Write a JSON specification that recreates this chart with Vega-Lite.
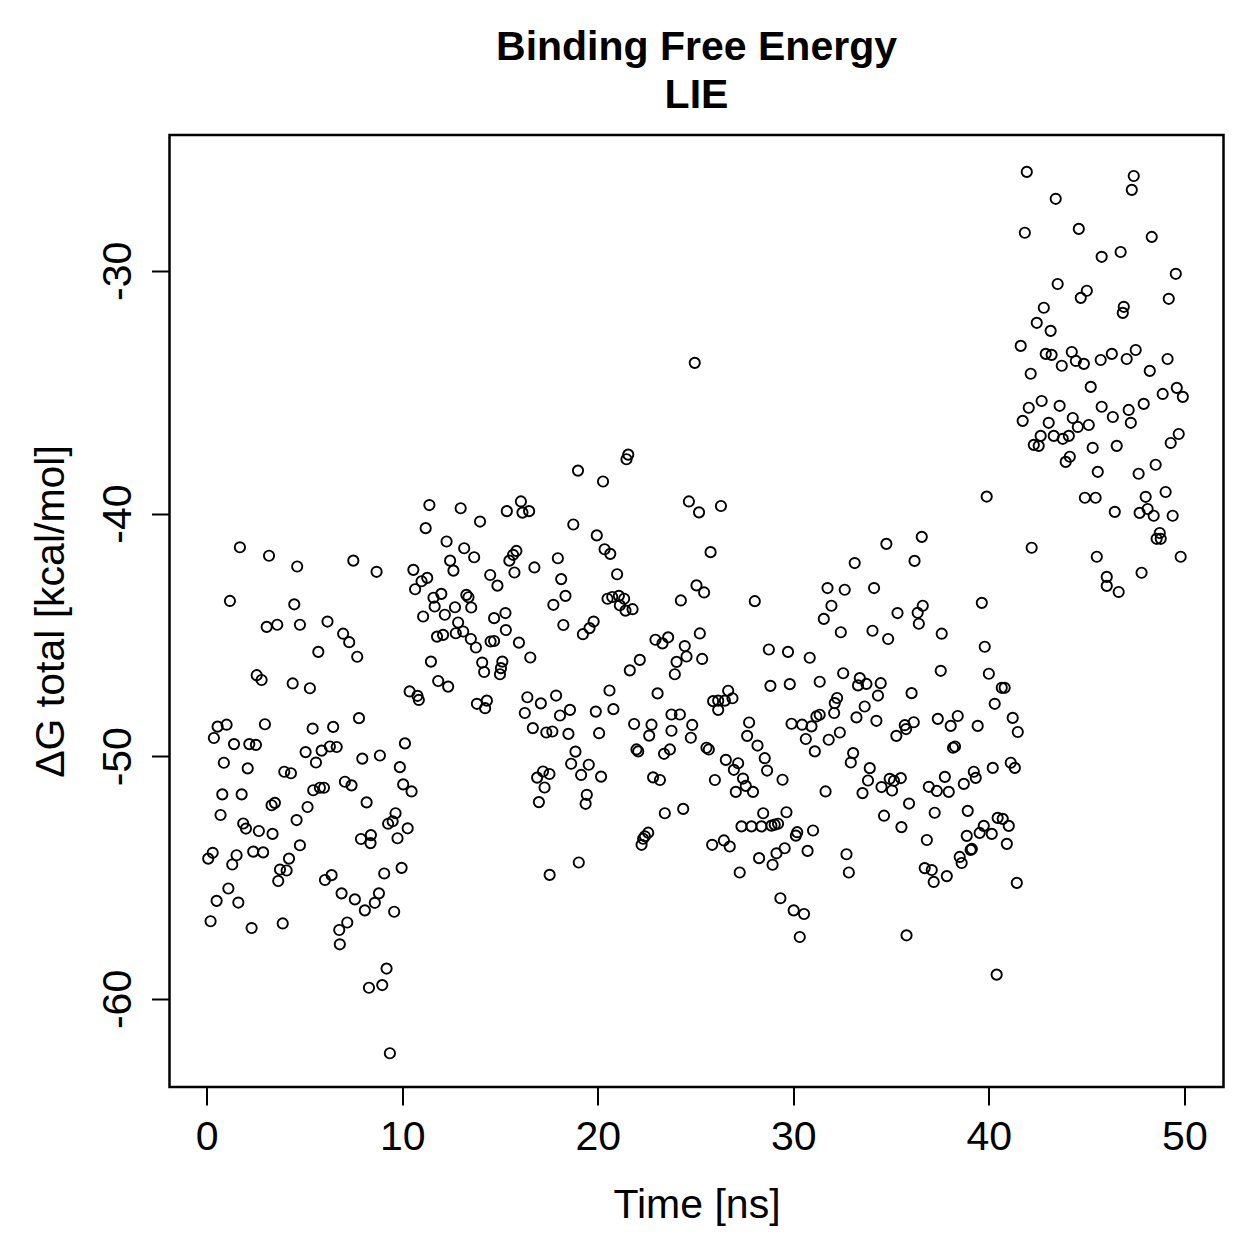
{
  "$schema": "https://vega.github.io/schema/vega-lite/v6.json",
  "width": 1054,
  "height": 952,
  "autosize": {"type": "none"},
  "padding": {"left": 169.5, "top": 135, "right": 35.5, "bottom": 172},
  "background": "white",
  "title": {
    "text": ["Binding Free Energy", "LIE"],
    "font": "Liberation Sans",
    "fontSize": 41,
    "fontWeight": "bold",
    "color": "black",
    "lineHeight": 48,
    "anchor": "middle",
    "frame": "group",
    "baseline": "alphabetic",
    "offset": -14
  },
  "data": {
    "values": [
      {"t":0.08,"g":-54.22},{"t":0.2,"g":-56.8},{"t":0.31,"g":-53.98},{"t":0.37,"g":-49.25},{"t":0.51,"g":-55.96},{"t":0.56,"g":-48.78},{"t":0.71,"g":-52.42},{"t":0.8,"g":-51.57},{"t":0.88,"g":-50.27},{"t":1.02,"g":-48.7},
      {"t":1.11,"g":-55.45},{"t":1.19,"g":-43.6},{"t":1.31,"g":-54.46},{"t":1.4,"g":-49.5},{"t":1.53,"g":-54.08},{"t":1.62,"g":-56.03},{"t":1.7,"g":-41.39},{"t":1.79,"g":-51.57},{"t":1.87,"g":-52.77},{"t":2.01,"g":-52.98},
      {"t":2.1,"g":-50.5},{"t":2.18,"g":-49.5},{"t":2.3,"g":-57.08},{"t":2.38,"g":-53.93},{"t":2.52,"g":-49.53},{"t":2.56,"g":-46.66},{"t":2.67,"g":-53.08},{"t":2.81,"g":-46.86},{"t":2.89,"g":-53.96},{"t":2.98,"g":-48.68},
      {"t":3.07,"g":-44.67},{"t":3.19,"g":-41.74},{"t":3.32,"g":-52.02},{"t":3.37,"g":-53.2},{"t":3.49,"g":-51.92},{"t":3.61,"g":-44.58},{"t":3.66,"g":-55.14},{"t":3.75,"g":-54.67},{"t":3.89,"g":-56.89},{"t":3.97,"g":-50.64},
      {"t":4.09,"g":-54.71},{"t":4.21,"g":-54.22},{"t":4.31,"g":-50.7},{"t":4.4,"g":-47.0},{"t":4.48,"g":-43.74},{"t":4.6,"g":-52.63},{"t":4.63,"g":-42.18},{"t":4.77,"g":-44.58},{"t":4.77,"g":-53.67},
      {"t":5.06,"g":-49.83},{"t":5.16,"g":-52.09},{"t":5.28,"g":-47.2},{"t":5.42,"g":-48.86},{"t":5.45,"g":-51.4},{"t":5.59,"g":-50.26},{"t":5.71,"g":-45.7},{"t":5.79,"g":-51.3},{"t":5.88,"g":-49.77},{"t":6.0,"g":-51.3},
      {"t":6.05,"g":-55.1},{"t":6.18,"g":-44.45},{"t":6.3,"g":-49.6},{"t":6.39,"g":-54.9},{"t":6.47,"g":-48.79},{"t":6.65,"g":-49.62},{"t":6.78,"g":-57.16},{"t":6.81,"g":-57.75},{"t":6.9,"g":-55.65},{"t":6.98,"g":-44.95},
      {"t":7.07,"g":-51.05},{"t":7.19,"g":-56.85},{"t":7.29,"g":-45.3},{"t":7.41,"g":-51.2},{"t":7.5,"g":-41.94},{"t":7.58,"g":-55.9},{"t":7.7,"g":-45.9},{"t":7.79,"g":-48.43},{"t":7.89,"g":-53.41},{"t":7.96,"g":-50.1},
      {"t":8.09,"g":-56.35},{"t":8.18,"g":-51.9},{"t":8.3,"g":-59.54},{"t":8.38,"g":-53.58},{"t":8.4,"g":-53.25},{"t":8.6,"g":-56.04},{"t":8.69,"g":-42.4},{"t":8.81,"g":-55.65},{"t":8.86,"g":-49.97},{"t":8.98,"g":-59.43},
      {"t":9.08,"g":-54.83},{"t":9.2,"g":-58.75},{"t":9.28,"g":-52.78},{"t":9.37,"g":-62.24},{"t":9.51,"g":-52.68},{"t":9.59,"g":-56.41},{"t":9.66,"g":-52.35},{"t":9.76,"g":-53.38},{"t":9.88,"g":-50.45},{"t":9.97,"g":-54.6},
      {"t":10.05,"g":-51.16},{"t":10.14,"g":-49.47},{"t":10.28,"g":-52.97},{"t":10.48,"g":-51.45},
      {"t":11.39,"g":-39.65},{"t":12.99,"g":-39.78},{"t":13.98,"g":-40.33},{"t":15.35,"g":-39.9},{"t":11.2,"g":-40.6},{"t":12.27,"g":-41.15},{"t":13.17,"g":-41.43},{"t":13.68,"g":-41.8},{"t":12.45,"g":-41.94},{"t":12.62,"g":-42.35},
      {"t":10.57,"g":-42.32},{"t":11.28,"g":-42.65},{"t":10.99,"g":-42.79},{"t":10.66,"g":-43.12},{"t":14.5,"g":-42.53},{"t":14.87,"g":-42.97},{"t":15.48,"g":-41.94},{"t":12.0,"g":-43.31},{"t":11.6,"g":-43.47},{"t":11.66,"g":-43.83},
      {"t":13.28,"g":-43.35},{"t":13.39,"g":-43.45},{"t":13.53,"g":-43.87},{"t":12.7,"g":-43.86},{"t":12.18,"g":-44.17},{"t":11.07,"g":-44.24},{"t":14.7,"g":-44.31},{"t":15.28,"g":-44.1},{"t":12.86,"g":-44.49},{"t":12.74,"g":-44.93},
      {"t":13.12,"g":-44.86},{"t":13.51,"g":-45.17},{"t":13.77,"g":-45.52},{"t":11.78,"g":-45.07},{"t":12.09,"g":-45.0},{"t":14.52,"g":-45.27},{"t":14.7,"g":-45.25},{"t":15.3,"g":-44.8},{"t":11.47,"g":-46.1},{"t":14.09,"g":-46.14},
      {"t":14.19,"g":-46.53},{"t":15.12,"g":-46.1},{"t":15.05,"g":-46.37},{"t":15.0,"g":-46.62},{"t":11.84,"g":-46.9},{"t":12.35,"g":-47.13},{"t":10.38,"g":-47.33},{"t":10.78,"g":-47.51},{"t":10.85,"g":-47.68},{"t":13.82,"g":-47.84},
      {"t":14.33,"g":-47.71},{"t":14.24,"g":-48.02},
      {"t":18.99,"g":-38.23},{"t":20.27,"g":-38.68},{"t":16.07,"g":-39.5},{"t":16.15,"g":-39.96},{"t":16.49,"g":-39.9},{"t":18.75,"g":-40.45},{"t":19.95,"g":-40.9},{"t":20.35,"g":-41.47},{"t":20.64,"g":-41.66},{"t":15.84,"g":-41.54},
      {"t":15.67,"g":-41.7},{"t":15.74,"g":-42.43},{"t":16.76,"g":-42.22},{"t":17.96,"g":-41.84},{"t":18.13,"g":-42.7},{"t":18.35,"g":-43.39},{"t":17.73,"g":-43.76},{"t":18.24,"g":-44.59},{"t":19.24,"g":-44.97},{"t":19.58,"g":-44.72},
      {"t":19.79,"g":-44.45},{"t":15.97,"g":-45.32},{"t":16.55,"g":-45.93},{"t":20.6,"g":-47.29},{"t":16.4,"g":-47.57},{"t":17.09,"g":-47.82},{"t":17.87,"g":-47.5},{"t":16.27,"g":-48.22},{"t":18.07,"g":-48.32},{"t":18.58,"g":-48.09},
      {"t":19.9,"g":-48.16},{"t":20.8,"g":-48.06},{"t":16.68,"g":-48.84},{"t":17.37,"g":-49.02},{"t":17.68,"g":-48.98},{"t":18.5,"g":-49.08},{"t":20.07,"g":-49.05},{"t":18.86,"g":-49.81},{"t":18.64,"g":-50.31},{"t":19.54,"g":-50.35},
      {"t":19.15,"g":-50.77},{"t":20.17,"g":-50.84},{"t":17.2,"g":-50.63},{"t":16.9,"g":-50.88},{"t":17.53,"g":-50.73},{"t":17.28,"g":-51.29},{"t":16.99,"g":-51.89},{"t":19.44,"g":-51.59},{"t":19.38,"g":-51.96},{"t":19.03,"g":-54.38},
      {"t":17.54,"g":-54.89},
      {"t":24.96,"g":-33.79},{"t":21.47,"g":-37.76},{"t":21.56,"g":-37.57},{"t":24.66,"g":-39.5},{"t":25.18,"g":-39.95},{"t":25.77,"g":-41.59},{"t":20.99,"g":-42.5},{"t":20.5,"g":-43.51},{"t":20.74,"g":-43.44},{"t":21.08,"g":-43.39},
      {"t":21.35,"g":-43.51},{"t":21.13,"g":-43.78},{"t":21.42,"g":-44.0},{"t":21.78,"g":-43.94},{"t":25.05,"g":-42.96},{"t":25.44,"g":-43.25},{"t":24.25,"g":-43.58},{"t":22.95,"g":-45.2},{"t":23.31,"g":-45.35},{"t":23.6,"g":-45.1},
      {"t":25.22,"g":-44.94},{"t":22.15,"g":-46.03},{"t":21.64,"g":-46.46},{"t":24.45,"g":-45.46},{"t":24.54,"g":-45.89},{"t":24.03,"g":-46.11},{"t":23.94,"g":-46.62},{"t":25.34,"g":-45.99},{"t":23.06,"g":-47.41},{"t":21.86,"g":-48.67},
      {"t":22.75,"g":-48.7},{"t":22.63,"g":-49.15},{"t":23.77,"g":-48.28},{"t":24.2,"g":-48.28},{"t":23.77,"g":-48.95},{"t":24.83,"g":-48.71},{"t":24.76,"g":-49.24},{"t":25.9,"g":-47.73},{"t":26.16,"g":-48.09},{"t":21.98,"g":-49.72},
      {"t":22.07,"g":-49.8},{"t":23.39,"g":-49.9},{"t":23.69,"g":-49.72},{"t":25.56,"g":-49.65},{"t":25.68,"g":-49.72},{"t":22.83,"g":-50.87},{"t":23.18,"g":-50.98},{"t":25.99,"g":-50.98},{"t":23.43,"g":-52.35},{"t":24.37,"g":-52.17},
      {"t":22.24,"g":-53.65},{"t":22.32,"g":-53.4},{"t":22.41,"g":-53.3},{"t":22.58,"g":-53.15},{"t":25.85,"g":-53.65},{"t":26.3,"g":-39.69},
      {"t":28.03,"g":-43.61},{"t":28.75,"g":-45.6},{"t":29.73,"g":-45.7},{"t":30.84,"g":-45.94},{"t":31.35,"g":-46.93},{"t":28.83,"g":-47.1},{"t":29.82,"g":-47.03},{"t":26.67,"g":-47.3},{"t":26.16,"g":-47.71},{"t":26.5,"g":-47.71},
      {"t":26.89,"g":-47.61},{"t":27.74,"g":-48.61},{"t":27.64,"g":-49.16},{"t":28.17,"g":-49.56},{"t":28.54,"g":-50.08},{"t":28.66,"g":-50.59},{"t":29.91,"g":-48.66},{"t":30.45,"g":-48.7},{"t":30.93,"g":-48.77},{"t":30.64,"g":-49.29},
      {"t":31.18,"g":-48.36},{"t":31.35,"g":-48.29},{"t":31.1,"g":-49.8},{"t":26.55,"g":-50.15},{"t":27.18,"g":-50.29},{"t":26.96,"g":-50.56},{"t":27.43,"g":-50.92},{"t":27.57,"g":-51.22},{"t":27.06,"g":-51.47},{"t":27.94,"g":-51.47},
      {"t":29.45,"g":-50.97},{"t":28.46,"g":-52.35},{"t":29.65,"g":-52.31},{"t":29.05,"g":-52.82},{"t":29.22,"g":-52.78},{"t":27.35,"g":-52.89},{"t":27.86,"g":-52.89},{"t":28.37,"g":-52.89},{"t":28.88,"g":-52.86},{"t":30.2,"g":-53.13},
      {"t":30.13,"g":-53.27},{"t":31.01,"g":-53.06},{"t":26.45,"g":-53.47},{"t":26.75,"g":-53.72},{"t":30.73,"g":-53.9},{"t":28.25,"g":-54.2},{"t":29.14,"g":-54.0},{"t":29.56,"g":-53.79},{"t":28.94,"g":-54.47},{"t":27.26,"g":-54.79},
      {"t":29.34,"g":-55.85},{"t":30.02,"g":-56.35},{"t":30.55,"g":-56.5},{"t":30.33,"g":-57.45},
      {"t":34.76,"g":-41.25},{"t":33.14,"g":-42.04},{"t":36.2,"g":-41.95},{"t":31.75,"g":-43.07},{"t":32.63,"g":-43.14},{"t":34.13,"g":-43.07},{"t":31.95,"g":-43.8},{"t":31.56,"g":-44.34},{"t":35.33,"g":-44.1},{"t":32.43,"g":-44.89},
      {"t":34.05,"g":-44.83},{"t":34.85,"g":-45.17},{"t":32.55,"g":-46.58},{"t":33.4,"g":-46.78},{"t":33.31,"g":-47.08},{"t":33.74,"g":-47.02},{"t":34.47,"g":-46.99},{"t":34.33,"g":-47.5},{"t":32.24,"g":-47.6},{"t":32.12,"g":-47.81},
      {"t":32.09,"g":-48.22},{"t":33.65,"g":-47.95},{"t":33.23,"g":-48.4},{"t":34.25,"g":-48.54},{"t":32.38,"g":-49.02},{"t":31.81,"g":-49.32},{"t":35.7,"g":-48.72},{"t":35.77,"g":-48.88},{"t":36.16,"g":-48.6},{"t":36.05,"g":-47.4},
      {"t":35.27,"g":-49.16},{"t":33.06,"g":-49.87},{"t":32.94,"g":-50.26},{"t":33.91,"g":-50.49},{"t":33.82,"g":-51.0},{"t":33.54,"g":-51.52},{"t":34.51,"g":-51.27},{"t":34.93,"g":-50.93},{"t":35.15,"g":-51.01},{"t":35.5,"g":-50.9},
      {"t":35.05,"g":-51.41},{"t":31.65,"g":-51.45},{"t":35.92,"g":-51.95},{"t":34.64,"g":-52.45},{"t":35.53,"g":-52.92},{"t":32.72,"g":-54.04},{"t":32.84,"g":-54.79},{"t":35.79,"g":-57.38},
      {"t":36.57,"g":-40.96},{"t":36.36,"g":-44.09},{"t":36.62,"g":-43.8},{"t":36.42,"g":-44.54},{"t":37.59,"g":-44.95},{"t":39.64,"g":-43.68},{"t":39.79,"g":-45.49},{"t":37.54,"g":-46.48},{"t":40.0,"g":-46.6},{"t":40.66,"g":-47.18},
      {"t":40.81,"g":-47.18},{"t":40.3,"g":-47.84},{"t":37.39,"g":-48.46},{"t":38.05,"g":-48.75},{"t":38.41,"g":-48.34},{"t":39.43,"g":-48.75},{"t":41.22,"g":-48.42},{"t":41.48,"g":-49.0},{"t":38.17,"g":-49.65},{"t":38.27,"g":-49.6},
      {"t":40.2,"g":-50.48},{"t":41.12,"g":-50.27},{"t":41.33,"g":-50.48},{"t":39.23,"g":-50.64},{"t":39.33,"g":-50.89},{"t":38.72,"g":-51.14},{"t":37.75,"g":-50.85},{"t":36.93,"g":-51.26},{"t":37.34,"g":-51.43},{"t":37.95,"g":-51.47},
      {"t":37.23,"g":-52.33},{"t":38.92,"g":-52.25},{"t":40.45,"g":-52.54},{"t":40.71,"g":-52.58},{"t":41.02,"g":-52.87},{"t":39.74,"g":-52.87},{"t":39.53,"g":-53.16},{"t":38.87,"g":-53.28},{"t":40.15,"g":-53.2},{"t":40.92,"g":-53.61},
      {"t":36.83,"g":-53.45},{"t":39.13,"g":-53.82},{"t":39.07,"g":-53.86},{"t":38.51,"g":-54.15},{"t":38.61,"g":-54.4},{"t":36.72,"g":-54.61},{"t":37.08,"g":-54.69},{"t":37.18,"g":-55.18},{"t":37.85,"g":-54.94},{"t":41.43,"g":-55.22},
      {"t":40.4,"g":-59.0},{"t":39.89,"g":-39.3},
      {"t":41.63,"g":-33.09},{"t":41.73,"g":-36.18},{"t":41.84,"g":-28.43},{"t":41.94,"g":-25.92},{"t":42.04,"g":-35.64},{"t":42.14,"g":-34.24},{"t":42.19,"g":-41.41},{"t":42.3,"g":-37.17},{"t":42.45,"g":-32.14},{"t":42.55,"g":-37.21},
      {"t":42.65,"g":-36.8},{"t":42.7,"g":-35.36},{"t":42.81,"g":-31.52},{"t":42.91,"g":-33.42},{"t":43.06,"g":-36.26},{"t":43.16,"g":-32.47},{"t":43.21,"g":-33.46},{"t":43.32,"g":-36.8},{"t":43.42,"g":-27.03},{"t":43.52,"g":-30.54},
      {"t":43.62,"g":-35.56},{"t":43.73,"g":-33.91},{"t":43.78,"g":-36.92},{"t":43.93,"g":-37.87},{"t":44.09,"g":-36.8},{"t":44.14,"g":-37.66},{"t":44.24,"g":-33.34},{"t":44.29,"g":-36.06},{"t":44.45,"g":-33.71},{"t":44.55,"g":-36.43},
      {"t":44.6,"g":-28.27},{"t":44.7,"g":-31.11},{"t":44.86,"g":-33.83},{"t":44.91,"g":-39.35},{"t":45.01,"g":-30.82},{"t":45.11,"g":-36.35},{"t":45.21,"g":-34.78},{"t":45.31,"g":-37.29},{"t":45.46,"g":-39.35},{"t":45.52,"g":-41.78},
      {"t":45.57,"g":-38.28},{"t":45.77,"g":-29.42},{"t":45.72,"g":-33.67},{"t":45.77,"g":-35.6},{"t":46.03,"g":-42.61},{"t":46.03,"g":-42.98},{"t":46.29,"g":-33.42},{"t":46.34,"g":-36.02},{"t":46.44,"g":-39.93},{"t":46.54,"g":-37.21},
      {"t":46.64,"g":-43.23},{"t":46.74,"g":-29.22},{"t":46.85,"g":-31.73},{"t":46.9,"g":-31.48},{"t":47.05,"g":-33.63},{"t":47.15,"g":-35.73},{"t":47.26,"g":-36.26},{"t":47.31,"g":-26.66},{"t":47.41,"g":-26.09},{"t":47.51,"g":-33.26},
      {"t":47.66,"g":-38.36},{"t":47.71,"g":-39.97},{"t":47.81,"g":-42.44},{"t":47.92,"g":-35.48},{"t":48.02,"g":-39.31},{"t":48.12,"g":-39.81},{"t":48.23,"g":-34.12},{"t":48.33,"g":-28.6},{"t":48.43,"g":-40.09},{"t":48.53,"g":-37.99},
      {"t":48.58,"g":-41.04},{"t":48.74,"g":-40.8},{"t":48.79,"g":-41.04},{"t":48.89,"g":-35.07},{"t":49.04,"g":-39.11},{"t":49.14,"g":-33.63},{"t":49.2,"g":-31.15},{"t":49.3,"g":-37.09},{"t":49.4,"g":-40.09},{"t":49.56,"g":-30.12},
      {"t":49.61,"g":-34.82},{"t":49.71,"g":-36.72},{"t":49.81,"g":-41.78},{"t":49.92,"g":-35.19}
    ]
  },
  "mark": {
    "type": "point",
    "shape": "circle",
    "filled": false,
    "size": 105,
    "strokeWidth": 1.9,
    "color": "black",
    "opacity": 1
  },
  "encoding": {
    "x": {
      "field": "t",
      "type": "quantitative",
      "scale": {"domain": [-1.9, 52.0], "nice": false, "zero": false},
      "axis": {
        "title": "Time [ns]",
        "values": [0, 10, 20, 30, 40, 50],
        "labelExpr": "toString(datum.value)",
        "labelPadding": 12.6,
        "labelBaseline": "top",
        "titleX": 527,
        "titleY": 130,
        "titleAlign": "center",
        "titleBaseline": "alphabetic",
        "titleAngle": 0
      }
    },
    "y": {
      "field": "g",
      "type": "quantitative",
      "scale": {"domain": [-63.63, -24.4], "nice": false, "zero": false},
      "axis": {
        "title": "ΔG total [kcal/mol]",
        "values": [-60, -50, -40, -30],
        "labelExpr": "toString(datum.value)",
        "labelAngle": 270,
        "labelAlign": "center",
        "labelBaseline": "alphabetic",
        "labelPadding": 21.5,
        "titleX": -106,
        "titleY": 476,
        "titleAngle": 270,
        "titleAlign": "center",
        "titleBaseline": "alphabetic"
      }
    }
  },
  "config": {
    "view": {"stroke": "black", "strokeWidth": 2.5},
    "axis": {
      "grid": false,
      "domain": false,
      "ticks": true,
      "tickColor": "black",
      "tickWidth": 2,
      "tickSize": 18,
      "labelFont": "Liberation Sans",
      "labelFontSize": 41,
      "labelColor": "black",
      "labelFlush": false,
      "labelOverlap": false,
      "titleFont": "Liberation Sans",
      "titleFontSize": 41,
      "titleFontWeight": "normal",
      "titleColor": "black"
    }
  }
}
